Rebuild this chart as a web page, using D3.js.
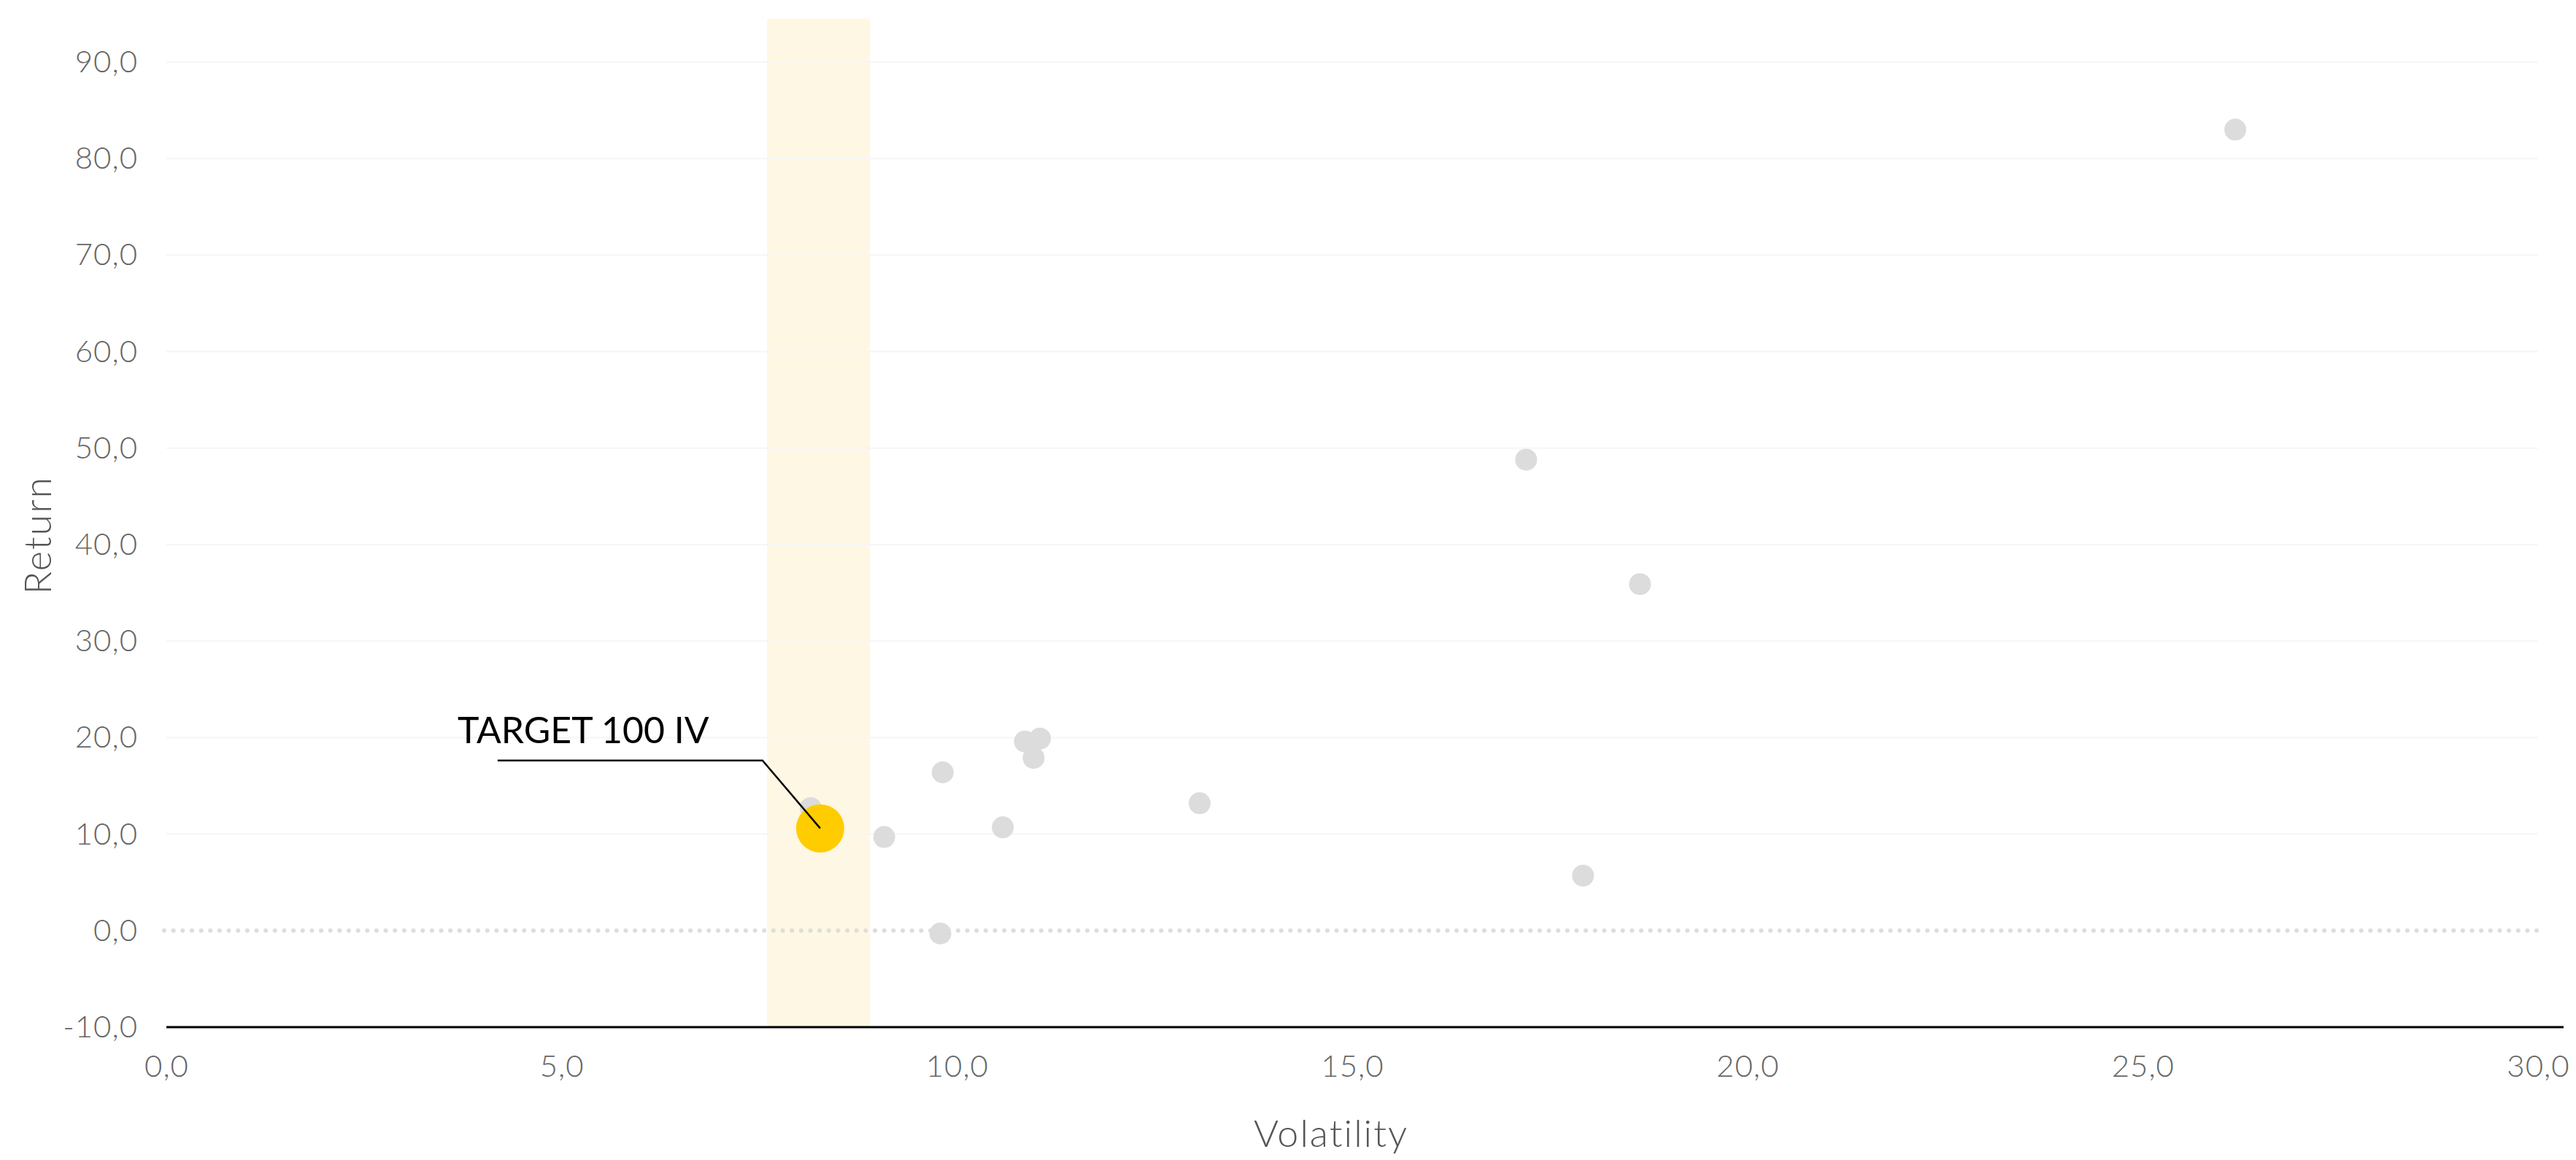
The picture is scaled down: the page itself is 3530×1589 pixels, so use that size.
<!DOCTYPE html>
<html>
<head>
<meta charset="utf-8">
<script src="https://cdn.jsdelivr.net/npm/d3@7"></script>
<style>
  html, body { margin: 0; padding: 0; background: #ffffff; }
  svg { display: block; font-family: Lato, "Open Sans", sans-serif; }
</style>
</head>
<body>
<svg id="chart" width="3530" height="1589"></svg>
<script>
// ---- Data ----
const volatility = [8.15, 9.08, 9.82, 9.79, 10.58, 10.86, 11.05, 10.97, 13.07, 17.20, 18.64, 17.92, 26.17];
const returns    = [12.7, 9.7, 16.4, -0.3, 10.7, 19.6, 19.9, 17.9, 13.2, 48.8, 35.9, 5.7, 83.0];
const targetName = ["TARGET 100 IV"];
const targetVol  = [8.27];
const targetRet  = [10.6];
const bandRange  = [7.6, 8.9];
const xTicks = [0, 5, 10, 15, 20, 25, 30];
const yTicks = [-10, 0, 10, 20, 30, 40, 50, 60, 70, 80, 90];
const xDomain = [0, 30];
const yDomain = [-10, 90];
const yTop = 94.5;

// ---- Layout ----
const svg = d3.select("#chart");
const x = d3.scaleLinear().domain(xDomain).range([228, 3478]);
const y = d3.scaleLinear().domain(yDomain).range([1407, 85]);
const fmt = v => d3.format(".1f")(v).replace(".", ",").replace("−", "-");

// highlight band
svg.append("rect")
  .attr("x", x(bandRange[0]))
  .attr("y", y(yTop))
  .attr("width", x(bandRange[1]) - x(bandRange[0]))
  .attr("height", y(yDomain[0]) - y(yTop))
  .attr("fill", "#fef7e3");

// y axis labels
const yAxis = d3.axisLeft(y).tickValues(yTicks).tickFormat(fmt).tickSize(0).tickPadding(39);
const gy = svg.append("g").attr("transform", `translate(${x(0)},0)`).call(yAxis);
gy.select(".domain").remove();
gy.selectAll("text").attr("font-size", 42).attr("fill", "#666").attr("font-weight", 300)
  .attr("letter-spacing", 1)
  .attr("font-family", "Lato, 'Open Sans', sans-serif");

// gridlines
svg.append("g").selectAll("line")
  .data(yTicks.filter(t => t !== 0 && t !== -10))
  .join("line")
  .attr("x1", x(xDomain[0])).attr("x2", x(xDomain[1]))
  .attr("y1", d => y(d)).attr("y2", d => y(d))
  .attr("stroke", "#f6f6f6").attr("stroke-width", 2);

// zero dotted line
svg.append("line")
  .attr("x1", x(xDomain[0]) - 3).attr("x2", x(xDomain[1]))
  .attr("y1", y(0)).attr("y2", y(0))
  .attr("stroke", "#dddddd").attr("stroke-width", 6)
  .attr("stroke-linecap", "round")
  .attr("stroke-dasharray", "0,12.65");

// x axis
const xAxis = d3.axisBottom(x).tickValues(xTicks).tickFormat(fmt).tickSize(0).tickPadding(38);
const gx = svg.append("g").attr("transform", `translate(0,${y(yDomain[0])})`).call(xAxis);
gx.select(".domain").remove();
gx.selectAll("text").attr("font-size", 42).attr("fill", "#666").attr("font-weight", 300)
  .attr("letter-spacing", 1)
  .attr("font-family", "Lato, 'Open Sans', sans-serif");
svg.append("line")
  .attr("x1", x(xDomain[0])).attr("x2", x(xDomain[1]) + 35)
  .attr("y1", y(yDomain[0])).attr("y2", y(yDomain[0]))
  .attr("stroke", "#000").attr("stroke-width", 3);

// axis titles
svg.append("text")
  .attr("x", 1824).attr("y", 1571)
  .attr("text-anchor", "middle")
  .attr("font-size", 52).attr("font-weight", 300).attr("fill", "#555")
  .attr("letter-spacing", 2)
  .text("Volatility");
svg.append("text")
  .attr("transform", `translate(70,${733}) rotate(-90)`)
  .attr("text-anchor", "middle")
  .attr("font-size", 52).attr("font-weight", 300).attr("fill", "#555")
  .attr("letter-spacing", 2)
  .text("Return");

// points
const pts = volatility.map((v, i) => ({ v, r: returns[i] }));
svg.append("g").selectAll("circle")
  .data(pts)
  .join("circle")
  .attr("cx", d => x(d.v)).attr("cy", d => y(d.r))
  .attr("r", 15)
  .attr("fill", "#dcdcdc");

// target
const tgt = targetVol.map((v, i) => ({ v, r: targetRet[i], name: targetName[i] }));
svg.append("g").selectAll("circle")
  .data(tgt)
  .join("circle")
  .attr("cx", d => x(d.v)).attr("cy", d => y(d.r))
  .attr("r", 33)
  .attr("fill", "#ffcc00");

// annotation
tgt.forEach(d => {
  const px = x(d.v), py = y(d.r);
  svg.append("polyline")
    .attr("points", `${px - 442},${py - 93} ${px - 79},${py - 93} ${px},${py}`)
    .attr("fill", "none").attr("stroke", "#000").attr("stroke-width", 2.5);
  svg.append("text")
    .attr("x", px - 497).attr("y", py - 117)
    .attr("font-size", 50).attr("fill", "#000")
    .text(d.name);
});
</script>
</body>
</html>
